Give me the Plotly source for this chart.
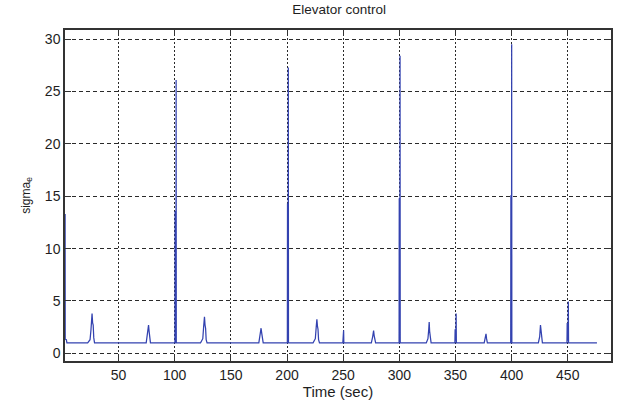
import plotly.graph_objects as go

# Elevator control channel: sigma_e over time (s)
time_s = [
    2.4, 2.5, 3.5, 4.0,
    22.5, 24.6, 25.4, 25.9, 26.4, 26.9, 27.4, 27.9, 28.6,
    74.6, 75.9, 76.7, 77.2, 77.7, 78.4,
    100.2, 100.35, 100.5, 101.1, 101.25, 101.4,
    123.0, 125.0, 125.8, 126.5, 127.0, 127.5, 128.0, 128.8,
    174.9, 176.1, 176.9, 177.5, 178.0, 178.8,
    200.3, 200.45, 200.6, 201.0, 201.15, 201.3,
    223.2, 225.2, 226.0, 226.6, 227.1, 227.6, 228.1, 228.9,
    249.7, 249.9, 250.2, 250.4, 250.6,
    275.1, 276.3, 277.1, 277.6, 278.1, 278.9,
    299.8, 299.95, 300.1, 300.5, 300.65, 300.8,
    324.0, 325.5, 326.2, 326.6, 327.0, 327.5, 328.3,
    349.5, 349.7, 350.1, 350.4, 350.6, 350.8,
    375.6, 376.6, 377.2, 377.7, 378.4,
    399.2, 399.35, 399.5, 399.9, 400.05, 400.2,
    423.8, 425.0, 425.7, 426.2, 426.7, 427.4,
    449.3, 449.5, 449.9, 450.3, 450.5, 450.7,
    476.0,
]
sigma_e = [
    13.3, 1.35, 1.3, 1.0,
    1.0, 1.3, 2.2, 2.8, 3.8, 2.9, 2.7, 1.5, 1.0,
    1.0, 1.8, 2.7, 2.1, 1.8, 1.0,
    1.0, 13.6, 1.0, 1.0, 26.1, 1.0,
    1.0, 1.4, 2.6, 3.5, 2.7, 2.4, 1.3, 1.0,
    1.0, 1.7, 2.4, 1.9, 1.5, 1.0,
    1.0, 14.3, 1.0, 1.0, 27.3, 1.0,
    1.0, 1.4, 2.5, 3.25, 2.6, 2.3, 1.3, 1.0,
    1.0, 1.6, 1.3, 2.2, 1.0,
    1.0, 1.6, 2.17, 1.7, 1.4, 1.0,
    1.0, 14.8, 1.0, 1.0, 28.4, 1.0,
    1.0, 1.4, 2.3, 3.0, 2.1, 1.4, 1.0,
    1.0, 2.3, 1.2, 2.3, 3.8, 1.0,
    1.0, 1.5, 1.86, 1.4, 1.0,
    1.0, 15.1, 1.0, 1.0, 29.5, 1.0,
    1.0, 1.6, 2.7, 2.0, 1.6, 1.0,
    1.0, 2.9, 1.2, 2.95, 4.95, 1.0,
    1.0,
]

x_ticks = [50, 100, 150, 200, 250, 300, 350, 400, 450]
y_ticks = [0, 5, 10, 15, 20, 25, 30]

FAMILY = "Liberation Sans, Arial, sans-serif"
tick_font = dict(family=FAMILY, size=14, color="#1e1e1e")

fig = go.Figure(
    go.Scatter(
        x=time_s,
        y=sigma_e,
        mode="lines",
        line=dict(color="#3342b0", width=1.25),
        hoverinfo="x+y",
    )
)

fig.update_layout(
    width=620,
    height=401,
    margin=dict(l=65, r=7, t=30, b=37),
    paper_bgcolor="white",
    plot_bgcolor="white",
    showlegend=False,
    title=dict(
        text="Elevator control",
        x=0.547,
        xanchor="center",
        y=0.988,
        yanchor="top",
        font=dict(family=FAMILY, size=13.5, color="#1e1e1e"),
    ),
    font=tick_font,
)

fig.update_xaxes(
    range=[2.3, 488.5],
    tickvals=x_ticks,
    ticktext=[str(v) for v in x_ticks],
    ticks="inside",
    ticklen=6,
    tickwidth=1.2,
    tickcolor="#333",
    showline=True,
    linecolor="#333",
    linewidth=1.5,
    mirror="ticks",
    showgrid=True,
    gridcolor="#2a2a2a",
    gridwidth=1.1,
    griddash="2px,2px",
    zeroline=False,
    title=dict(text="Time (sec)", standoff=1, font=dict(family=FAMILY, size=15, color="#1e1e1e")),
    tickfont=tick_font,
)

fig.update_yaxes(
    range=[-0.73, 30.87],
    tickvals=y_ticks,
    ticktext=[str(v) for v in y_ticks],
    ticks="inside",
    ticklen=6,
    tickwidth=1.2,
    tickcolor="#333",
    showline=True,
    linecolor="#333",
    linewidth=1.5,
    mirror="ticks",
    showgrid=True,
    gridcolor="#2a2a2a",
    gridwidth=1.1,
    griddash="4px,3px",
    zeroline=False,
    title=dict(text="sigma<sub>e</sub>", standoff=12, font=dict(family=FAMILY, size=12, color="#1e1e1e")),
    tickfont=tick_font,
)

fig.write_html("out.html")
